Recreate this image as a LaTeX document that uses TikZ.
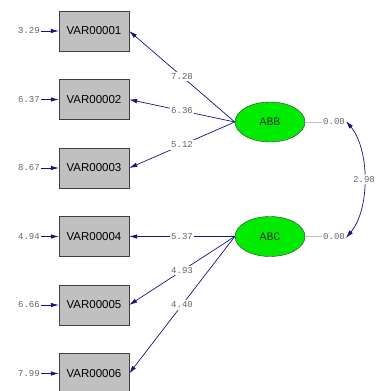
\documentclass[tikz,border=0pt]{standalone}
\usepackage{fontspec}
\newfontfamily\numfont{Liberation Mono}
\newfontfamily\boxfont{Liberation Sans}
\usetikzlibrary{positioning,shapes,arrows,arrows.meta,calc}
\definecolor{pathblue}{RGB}{20,20,130}
\definecolor{boxgray}{RGB}{192,192,192}
\definecolor{numgray}{RGB}{100,100,105}
\definecolor{latgreen}{RGB}{0,235,0}
\tikzset{
  obsbox/.style={draw=black!75, fill=boxgray, minimum width=70pt, minimum height=40pt,
    inner sep=0pt, font=\boxfont\fontsize{11.5}{12}\selectfont},
  latent/.style={ellipse, draw=black!80, fill=latgreen, minimum width=70pt, minimum height=40pt,
    inner sep=0pt, text=black!80, font=\numfont\fontsize{11.5}{12}\selectfont},
  numlabel/.style={text=numgray, inner sep=1pt, font=\numfont\fontsize{9}{10}\selectfont},
  loadlabel/.style={numlabel, fill=white, inner sep=1.5pt},
  loadpath/.style={draw=pathblue, line width=0.7pt, -{Latex[length=8pt,width=4.5pt]}},
  errpath/.style={draw=pathblue, line width=0.7pt, -{Latex[length=8pt,width=4.5pt]}}
}
\begin{document}
\begin{tikzpicture}[x=1pt,y=-1pt]
      \useasboundingbox (0,0) rectangle (377,391);
      \node[obsbox] (v1) at (94,31) {VAR00001};
      \node[obsbox] (v2) at (94,99.5) {VAR00002};
      \node[obsbox] (v3) at (94,168) {VAR00003};
      \node[obsbox] (v4) at (94,236.5) {VAR00004};
      \node[obsbox] (v5) at (94,305) {VAR00005};
      \node[obsbox] (v6) at (94,373.5) {VAR00006};
      \node[numlabel] (e1) at (29,31) {3.29};
      \node[numlabel] (e2) at (29,99.5) {6.37};
      \node[numlabel] (e3) at (29,168) {8.67};
      \node[numlabel] (e4) at (29,236.5) {4.94};
      \node[numlabel] (e5) at (29,305) {6.66};
      \node[numlabel] (e6) at (29,373.5) {7.99};
      \foreach \i in {1,...,6}
        \draw[errpath] (e\i.east) -- (v\i.west);
      \node[latent] (abb) at (270,122) {ABB};
      \node[latent] (abc) at (270,236.5) {ABC};
      \draw[loadpath] (abb.west) -- node[loadlabel] {7.28} (v1.east);
      \draw[loadpath] (abb.west) -- node[loadlabel] {6.36} (v2.east);
      \draw[loadpath] (abb.west) -- node[loadlabel] {5.12} (v3.east);
      \draw[loadpath] (abc.west) -- node[loadlabel] {5.37} (v4.east);
      \draw[loadpath] (abc.west) -- node[loadlabel] {4.93} (v5.east);
      \draw[loadpath] (abc.west) -- node[loadlabel] {4.40} (v6.east);
      \node[numlabel, anchor=west] (z1) at (322,122) {0.00};
      \node[numlabel, anchor=west] (z2) at (322,236.5) {0.00};
      \draw[black!25] (abb.east) -- (z1.west);
      \draw[black!25] (abc.east) -- (z2.west);
      \coordinate (c1) at (346,121);
      \coordinate (c2) at (346,238);
      \draw[draw=pathblue, line width=0.7pt, {Latex[length=8pt,width=4.5pt]}-{Latex[length=8pt,width=4.5pt]}]
        (c1) .. controls (370,150) and (370,209) .. node[loadlabel] {2.98} (c2);
    \end{tikzpicture}
\end{document}
